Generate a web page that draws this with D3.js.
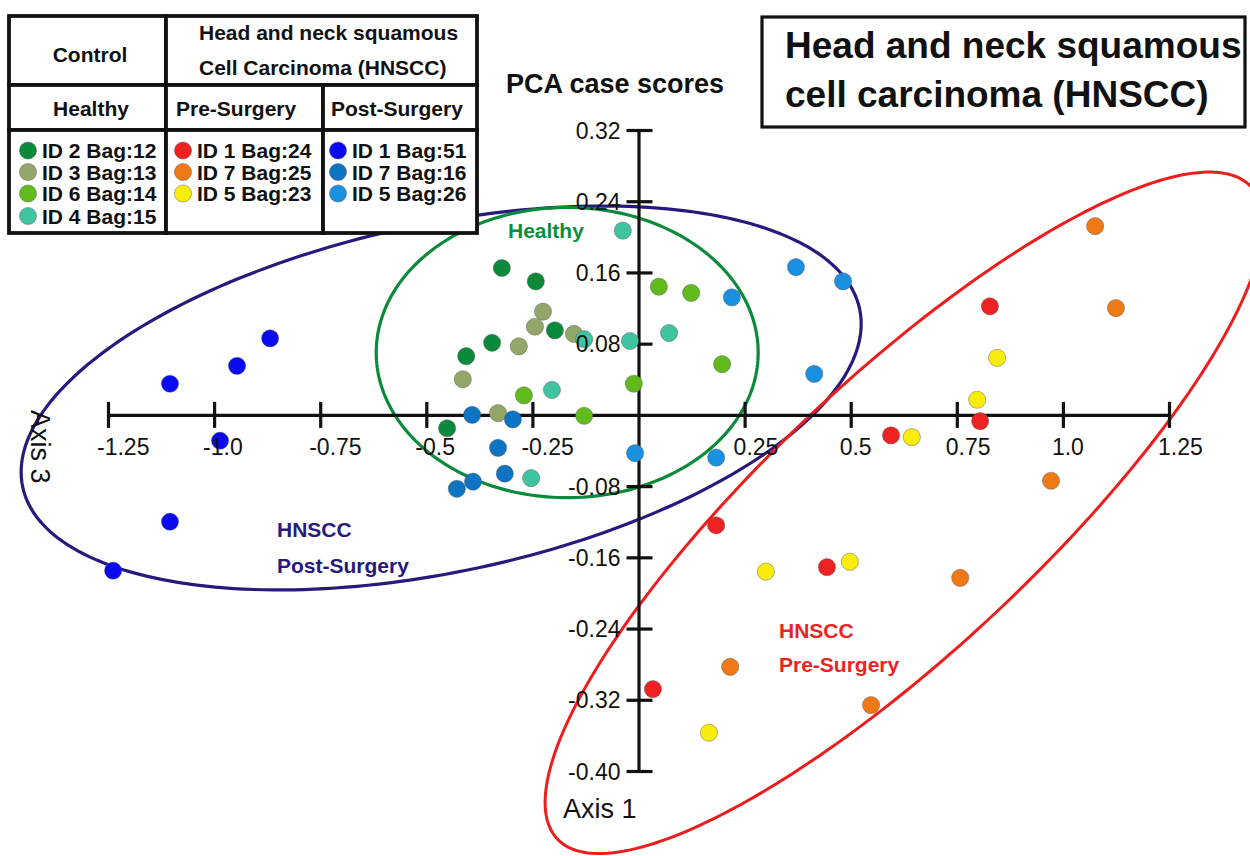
<!DOCTYPE html>
<html><head><meta charset="utf-8">
<script src="https://cdn.jsdelivr.net/npm/d3@7"></script>
<style>
body{margin:0;background:#fff}
text{font-family:"Liberation Sans",Arial,Helvetica,sans-serif;fill:#111}
</style>
</head><body>
<svg id="chart" width="1250" height="856"></svg>
<script>
// ---------- data ----------
const seriesLabels = ["ID 2 Bag:12","ID 3 Bag:13","ID 6 Bag:14","ID 4 Bag:15",
                      "ID 1 Bag:24","ID 7 Bag:25","ID 5 Bag:23",
                      "ID 1 Bag:51","ID 7 Bag:16","ID 5 Bag:26"];
const seriesColors = ["#0b8a3b","#93a66a","#62bb1c","#3fc3a0",
                      "#ee2222","#f07916","#f8ec0a",
                      "#0a0af0","#0c74c2","#1a90e0"];
// Healthy
const id2Bag12 = [[-0.322,0.165],[-0.242,0.150],[-0.197,0.095],[-0.345,0.081],[-0.406,0.066],[-0.451,-0.015]];
const id3Bag13 = [[-0.225,0.116],[-0.244,0.099],[-0.282,0.077],[-0.414,0.040],[-0.331,0.002],[-0.152,0.091]];
const id6Bag14 = [[0.048,0.144],[0.124,0.137],[0.197,0.057],[-0.011,0.035],[-0.270,0.022],[-0.128,-0.001]];
const id4Bag15 = [[-0.037,0.207],[0.072,0.092],[-0.020,0.083],[-0.128,0.085],[-0.204,0.028],[-0.253,-0.071]];
// HNSCC pre-surgery
const id1Bag24 = [[0.828,0.122],[0.805,-0.007],[0.595,-0.023],[0.183,-0.124],[0.444,-0.171],[0.034,-0.308]];
const id7Bag25 = [[1.076,0.212],[1.125,0.120],[0.972,-0.074],[0.758,-0.183],[0.216,-0.283],[0.548,-0.326]];
const id5Bag23 = [[0.845,0.064],[0.798,0.017],[0.644,-0.025],[0.300,-0.176],[0.498,-0.165],[0.166,-0.357]];
// HNSCC post-surgery
const id1Bag51 = [[-0.868,0.086],[-0.946,0.055],[-1.104,0.035],[-0.986,-0.029],[-1.104,-0.120],[-1.238,-0.175]];
const id7Bag16 = [[-0.392,0.000],[-0.296,-0.005],[-0.331,-0.037],[-0.315,-0.066],[-0.390,-0.075],[-0.428,-0.083]];
const id5Bag26 = [[0.371,0.166],[0.482,0.150],[0.220,0.132],[0.414,0.046],[-0.008,-0.043],[0.183,-0.048]];
const seriesData = [id2Bag12,id3Bag13,id6Bag14,id4Bag15,id1Bag24,id7Bag25,id5Bag23,id1Bag51,id7Bag16,id5Bag26];

// group ellipses: [centerX, centerY, axis1X, axis1Y, axis2X, axis2Y] in data units
const ellipseHealthy = [-0.168, 0.070, 0.450, 0.000, 0.000, 0.163];
const ellipsePost    = [-0.465, 0.019, 0.986, 0.100, 0.0853, -0.191];
const ellipsePre     = [0.626, -0.110, 0.818, 0.366, 0.216, -0.112];

const xTicks = [-1.25,-1.0,-0.75,-0.5,-0.25,0.25,0.5,0.75,1.0,1.25];
const xTickLabels = ["-1.25","-1.0","-0.75","-0.5","-0.25","0.25","0.5","0.75","1.0","1.25"];
const yTicks = [0.32,0.24,0.16,0.08,-0.08,-0.16,-0.24,-0.32,-0.40];
const yTickLabels = ["0.32","0.24","0.16","0.08","-0.08","-0.16","-0.24","-0.32","-0.40"];

// ---------- drawing ----------
const svg = d3.select("#chart");
const x = d3.scaleLinear().domain([-1.25,1.25]).range([108,1169]);
const y = d3.scaleLinear().domain([-0.40,0.32]).range([771,130]);

function ellipsePath(e){
  const pts = d3.range(0, 240).map(i=>{
    const t = i/240*2*Math.PI;
    return [x(e[0] + e[2]*Math.cos(t) + e[4]*Math.sin(t)),
            y(e[1] + e[3]*Math.cos(t) + e[5]*Math.sin(t))];
  });
  return d3.line().curve(d3.curveLinearClosed)(pts);
}
const gE = svg.append("g").attr("fill","none");
gE.append("path").attr("d",ellipsePath(ellipsePost)).attr("stroke","#271a7c").attr("stroke-width",3.2);
gE.append("path").attr("d",ellipsePath(ellipseHealthy)).attr("stroke","#0b8a3b").attr("stroke-width",3.2);
gE.append("path").attr("d",ellipsePath(ellipsePre)).attr("stroke","#ee1c1c").attr("stroke-width",3);

// axes (lines only here)
const xAxis = d3.axisBottom(x).tickValues(xTicks).tickSize(13).tickSizeOuter(0).tickFormat("");
const gx = svg.append("g").attr("transform",`translate(0,${y(0)})`).call(xAxis);
gx.selectAll(".tick line").attr("y1",-13).attr("y2",13);
const yAxis = d3.axisLeft(y).tickValues(yTicks).tickSize(13).tickSizeOuter(0).tickFormat("");
const gy = svg.append("g").attr("transform",`translate(${x(0)},0)`).call(yAxis);
gy.selectAll(".tick line").attr("x1",-12).attr("x2",14);
svg.selectAll(".domain, .tick line").attr("stroke","#111").attr("stroke-width",3.2);
svg.selectAll(".tick text").remove();

// points
seriesData.forEach((arr,i)=>{
  svg.append("g").selectAll("circle").data(arr).join("circle")
    .attr("cx",d=>x(d[0])).attr("cy",d=>y(d[1])).attr("r",8.6)
    .attr("fill",seriesColors[i]).attr("stroke","#555").attr("stroke-opacity",0.55).attr("stroke-width",0.8);
});

// tick labels
svg.append("g").selectAll("text").data(xTicks).join("text")
  .attr("x",d=>x(d)-11).attr("y",y(0)+40).attr("font-size",23).text((d,i)=>xTickLabels[i]);
svg.append("g").selectAll("text").data(yTicks).join("text")
  .attr("x",x(0)-18).attr("y",d=>y(d)+8.5).attr("text-anchor","end").attr("font-size",23).text((d,i)=>yTickLabels[i]);

// axis titles
svg.append("text").attr("x",563).attr("y",818).attr("font-size",27).text("Axis 1");
svg.append("text").attr("transform","translate(31,410) rotate(90)").attr("font-size",27).text("Axis 3");
svg.append("text").attr("x",506).attr("y",93).attr("font-size",27).attr("font-weight","bold").text("PCA case scores");

// group labels
svg.append("text").attr("x",508).attr("y",238).attr("font-size",21).attr("font-weight","bold").style("fill","#0b8f3f").text("Healthy");
svg.append("text").attr("x",277).attr("y",537).attr("font-size",21).attr("font-weight","bold").style("fill","#271a7c").text("HNSCC");
svg.append("text").attr("x",277).attr("y",573).attr("font-size",21).attr("font-weight","bold").style("fill","#271a7c").text("Post-Surgery");
svg.append("text").attr("x",779).attr("y",638).attr("font-size",21).attr("font-weight","bold").style("fill","#ee2222").text("HNSCC");
svg.append("text").attr("x",779).attr("y",672).attr("font-size",21).attr("font-weight","bold").style("fill","#ee2222").text("Pre-Surgery");

// title box
svg.append("rect").attr("x",762).attr("y",17).attr("width",483).attr("height",110)
  .attr("fill","#fff").attr("stroke","#111").attr("stroke-width",3.2);
svg.append("text").attr("x",785).attr("y",58).attr("font-size",37).attr("font-weight","bold").text("Head and neck squamous");
svg.append("text").attr("x",785).attr("y",107).attr("font-size",37).attr("font-weight","bold").text("cell carcinoma (HNSCC)");

// legend table
const gL = svg.append("g");
const cells = [[9,16,157,69],[166,16,311,69],[9,85,157,45],[166,85,157,45],[323,85,154,45],
               [9,130,157,103],[166,130,157,103],[323,130,154,103]];
gL.selectAll("rect").data(cells).join("rect")
  .attr("x",d=>d[0]).attr("y",d=>d[1]).attr("width",d=>d[2]).attr("height",d=>d[3])
  .attr("fill","#fff").attr("stroke","#111").attr("stroke-width",3.8);
const bold = (sel)=>sel.attr("font-weight","bold").attr("font-size",21);
bold(gL.append("text").attr("x",90).attr("y",62).attr("text-anchor","middle").text("Control"));
bold(gL.append("text").attr("x",199).attr("y",40).text("Head and neck squamous"));
bold(gL.append("text").attr("x",199).attr("y",75).text("Cell Carcinoma (HNSCC)"));
bold(gL.append("text").attr("x",91).attr("y",116).attr("text-anchor","middle").text("Healthy"));
bold(gL.append("text").attr("x",176).attr("y",116).text("Pre-Surgery"));
bold(gL.append("text").attr("x",331).attr("y",116).text("Post-Surgery"));
const legendCols = [[28,42],[183,197],[338,352]];
const legendColOf = [0,0,0,0,1,1,1,2,2,2];
const legendRowOf = [0,1,2,3,0,1,2,0,1,2];
const rowY = [150.5,172,193.5,216];
seriesLabels.forEach((lab,i)=>{
  const c = legendCols[legendColOf[i]], ry = rowY[legendRowOf[i]];
  gL.append("circle").attr("cx",c[0]).attr("cy",ry).attr("r",8.6)
    .attr("fill",seriesColors[i]).attr("stroke","#555").attr("stroke-opacity",0.55).attr("stroke-width",0.8);
  bold(gL.append("text").attr("x",c[1]).attr("y",ry+7.5).text(lab));
});
</script>
</body></html>
